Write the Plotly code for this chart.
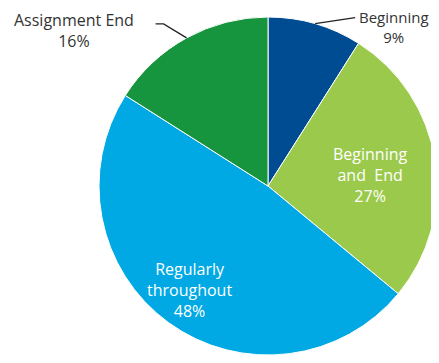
import math
import plotly.graph_objects as go

# slice data, clockwise from 12 o'clock
labels = ["Beginning", "Beginning and End", "Regularly throughout", "Assignment End"]
values = [9, 27, 48, 16]
colors = ["#004c93", "#9bc94b", "#00a9e4", "#17943e"]
label_text = ["Beginning<br>9%", "Beginning<br>and  End<br>27%",
              "Regularly<br>throughout<br>48%", "Assignment End<br>16%"]

# page body has an 8px margin on every side; keep the page from scrolling
OFF = 8
W, H = 439 - OFF, 363 - 2 * OFF
DOM_X = [91 / W, 429 / W]
DOM_Y = [0.0, 338 / H]

fig = go.Figure(go.Pie(
    labels=labels,
    values=values,
    sort=False,
    direction="clockwise",
    rotation=0,
    marker=dict(colors=colors, line=dict(color="white", width=1)),
    textinfo="none",
    hoverinfo="label+percent",
    showlegend=False,
    domain=dict(x=DOM_X, y=DOM_Y),
))

# pie geometry in figure pixels (plotly uses min(w, h)/2 for the radius)
dw = (DOM_X[1] - DOM_X[0]) * W
dh = (DOM_Y[1] - DOM_Y[0]) * H
R = min(dw, dh) / 2
cx = (DOM_X[0] + DOM_X[1]) / 2 * W
cy = H - (DOM_Y[0] + DOM_Y[1]) / 2 * H


def pt(angle_deg, r):
    a = math.radians(angle_deg)
    return cx + r * math.sin(a), cy - r * math.cos(a)


def paper(px, py):
    return px / W, 1 - py / H


total = sum(values)
mids = []
acc = 0
for v in values:
    mids.append((acc + v / 2) / total * 360)
    acc += v

font_out = dict(family="Open Sans, DejaVu Sans", size=16, color="#333333")
font_in = dict(family="Open Sans, DejaVu Sans", size=16, color="white")

annotations = []
shapes = []


def label(px, py, text, font):
    x, y = paper(px, py)
    annotations.append(dict(x=x, y=y, xref="paper", yref="paper", text=text,
                            xanchor="center", yanchor="middle",
                            showarrow=False, font=font, align="center"))


# inside labels: (slice, radius fraction, pixel nudge)
for i, rf, nx, ny in [(1, 0.61, 1, 5), (2, 0.74, -5, 3)]:
    px, py = pt(mids[i], rf * R)
    label(px + nx, py + ny, label_text[i], font_in)

# outside label: Beginning
ax0, ay0 = pt(mids[0], R)
p1 = (ax0 + 40, ay0 - 6)
x0, y0 = paper(ax0, ay0)
x1, y1 = paper(*p1)
shapes.append(dict(type="line", xref="paper", yref="paper", x0=x0, y0=y0, x1=x1, y1=y1,
                   line=dict(color="#222222", width=1.3)))
label(p1[0] + 39, p1[1] + 9, label_text[0], dict(font_out, size=15))

# outside label: Assignment End
ax3, ay3 = pt(mids[3], R)
e1 = (ax3 - 23, ay3 - 14)
e2 = (e1[0] - 8, e1[1])
path = "M {} {} L {} {} L {} {}".format(*paper(ax3, ay3), *paper(*e1), *paper(*e2))
shapes.append(dict(type="path", xref="paper", yref="paper", path=path,
                   line=dict(color="#222222", width=1.3)))
label(e2[0] - 82, e2[1] + 7, label_text[3], font_out)

fig.update_layout(
    width=W, height=H,
    margin=dict(l=0, r=0, t=0, b=0),
    paper_bgcolor="white",
    plot_bgcolor="white",
    annotations=annotations,
    shapes=shapes,
)

fig.write_html("out.html")
